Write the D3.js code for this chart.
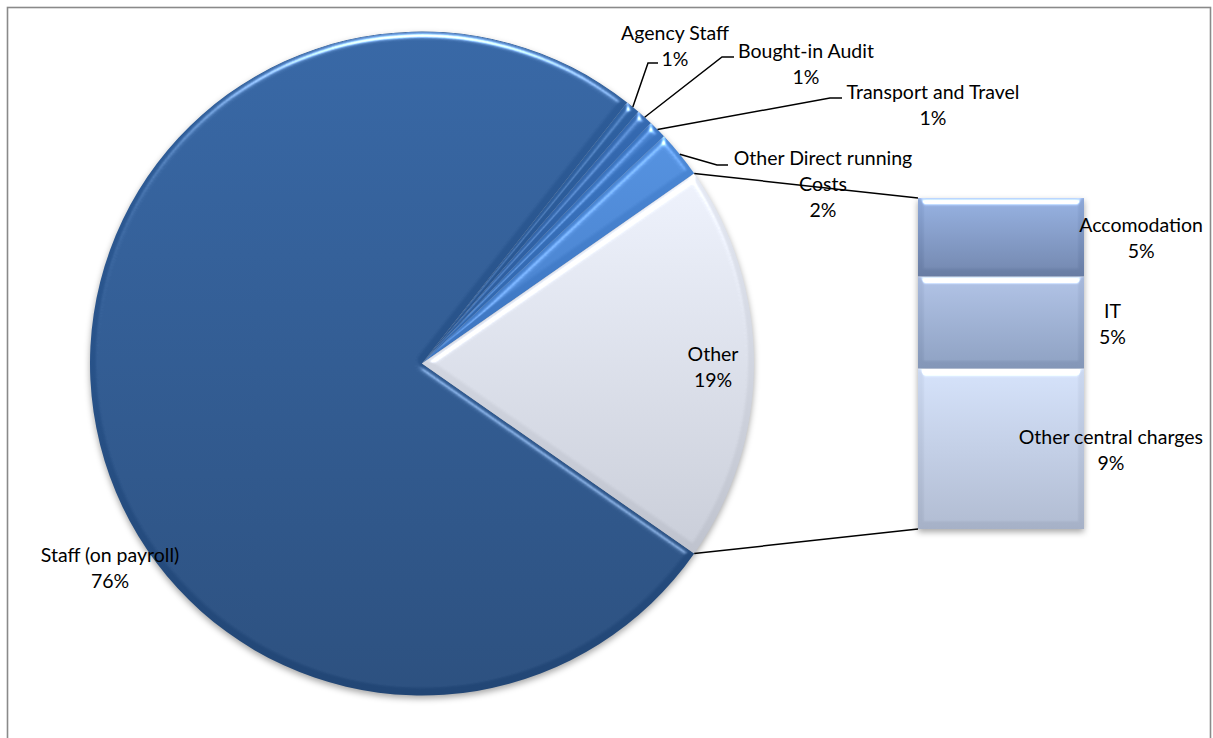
<!DOCTYPE html>
<html>
<head>
<meta charset="utf-8">
<script src="https://cdn.jsdelivr.net/npm/d3@7"></script>
<style>
  html, body { margin: 0; padding: 0; background: #ffffff; }
  svg { display: block; }
  text { font-family: Lato, "Open Sans", sans-serif; font-size: 19.5px; fill: #000; }
  filter { color-interpolation-filters: sRGB; }
</style>
</head>
<body>
<svg id="chart" width="1213" height="738"></svg>
<script>
// Running cost breakdown (% of total)
const pieCategories = ["Staff (on payroll)", "Agency Staff", "Bought-in Audit", "Transport and Travel", "Other Direct running Costs"];
const pieValues = [75.9, 0.7, 0.8, 0.9, 2.3];
const otherCategory = "Other";

// The "Other" slice is broken out into this stacked bar
const barCategories = ["Accomodation", "IT", "Other central charges"];
const barValues = [4.6, 5.4, 9.4];

const pieColors = [
  ["#2e5e9c", "#224675"],
  ["#2f62a3", "#26518a"],
  ["#356ab2", "#2b5a99"],
  ["#3b75c2", "#3065aa"],
  ["#4b88d6", "#3c74bf"],
  ["#e4e8f2", "#bfc3ce"]
];
const barColors = [
  ["#8da8d8", "#687ca3"],
  ["#a7b9dc", "#8396b7"],
  ["#cbd8f0", "#a6b1c7"]
];

// Label placement: text anchor (centre, first baseline) and leader line elbows
const pieLabelLayout = [
  { x: 110, y: 562 },
  { x: 675, y: 39.5, leader: [[648, 63], [658, 63]] },
  { x: 806, y: 58, leader: [[722, 57], [734, 57]] },
  { x: 933, y: 99, leader: [[830, 98], [842, 98]] },
  { x: 823, y: 165, wrap: 190, leader: [[717, 165], [728, 165]] },
  { x: 713, y: 361 }
];
const lineGap = 26;

const svg = d3.select("#chart");
const defs = svg.append("defs");

// Soft drop shadow under the shapes
const shadow = defs.append("filter").attr("id", "shadow")
  .attr("x", "-10%").attr("y", "-10%").attr("width", "120%").attr("height", "125%");
shadow.append("feDropShadow").attr("dx", 0).attr("dy", 3).attr("stdDeviation", 3)
  .attr("flood-color", "#000").attr("flood-opacity", 0.35);

// Bevel: specular highlight lit from above, clipped to the shape
const bevel = defs.append("filter").attr("id", "bevel")
  .attr("x", "-5%").attr("y", "-5%").attr("width", "110%").attr("height", "110%");
bevel.append("feGaussianBlur").attr("in", "SourceAlpha").attr("stdDeviation", 3).attr("result", "b");
const spec = bevel.append("feSpecularLighting").attr("in", "b").attr("surfaceScale", 4)
  .attr("specularConstant", 1).attr("specularExponent", 30)
  .attr("lighting-color", "#ffffff").attr("result", "s");
spec.append("feDistantLight").attr("azimuth", 270).attr("elevation", 40);
bevel.append("feComposite").attr("in", "s").attr("in2", "SourceAlpha").attr("operator", "in").attr("result", "sIn");
bevel.append("feComposite").attr("in", "SourceGraphic").attr("in2", "sIn")
  .attr("operator", "arithmetic").attr("k1", 0).attr("k2", 1).attr("k3", 0.85).attr("k4", 0);

function addGradient(id, c) {
  const g = defs.append("linearGradient").attr("id", id)
    .attr("x1", 0).attr("y1", 0).attr("x2", 0).attr("y2", 1);
  g.append("stop").attr("offset", "0%").attr("stop-color", c[0]);
  g.append("stop").attr("offset", "100%").attr("stop-color", c[1]);
}
pieColors.forEach((c, i) => addGradient("pg" + i, c));
barColors.forEach((c, i) => addGradient("bg" + i, c));

// Chart frame
svg.append("rect").attr("x", 7.5).attr("y", 7.5).attr("width", 1203).attr("height", 760)
  .attr("fill", "none").attr("stroke", "#8a8a8a").attr("stroke-width", 1.6);

// Pie data: primary categories plus the aggregated "Other"
const otherValue = d3.sum(barValues);
const pieData = pieCategories.map((c, i) => ({ name: c, value: pieValues[i] }))
  .concat([{ name: otherCategory, value: otherValue }]);
const total = d3.sum(pieData, d => d.value);

const cx = 422, cy = 363.5, r = 332;
const otherAngle = otherValue / total * 2 * Math.PI;
const start = Math.PI / 2 + otherAngle / 2;   // "Other" centred on the right
const pie = d3.pie().sort(null).value(d => d.value)
  .startAngle(start).endAngle(start + 2 * Math.PI);
const arcs = pie(pieData);
const arc = d3.arc().innerRadius(0).outerRadius(r);

const pct = v => Math.round(v / total * 100) + "%";
const polar = (a, rad) => [cx + rad * Math.sin(a), cy - rad * Math.cos(a)];

const pieG = svg.append("g").attr("filter", "url(#shadow)");
const sliceG = pieG.append("g").attr("transform", `translate(${cx},${cy})`);
sliceG.selectAll("path").data(arcs).join("path")
  .attr("d", arc)
  .attr("fill", (d, i) => `url(#pg${i})`)
  .attr("filter", "url(#bevel)");

// Stacked bar for the broken-out "Other" slice
const barX = d3.scaleBand().domain(["other"]).range([918, 1084]);
const barY = d3.scaleLinear().domain([0, otherValue]).range([198, 529]);
let acc = 0;
const barData = barCategories.map((c, i) => {
  const d = { name: c, value: barValues[i], y0: acc, y1: acc + barValues[i] };
  acc += barValues[i];
  return d;
});
const barG = svg.append("g").attr("filter", "url(#shadow)");
barG.selectAll("rect").data(barData).join("rect")
  .attr("x", barX("other"))
  .attr("width", barX.bandwidth())
  .attr("y", d => barY(d.y0))
  .attr("height", d => barY(d.y1) - barY(d.y0))
  .attr("fill", (d, i) => `url(#bg${i})`)
  .attr("filter", "url(#bevel)");

// Connector lines from the "Other" slice to the bar
const otherArc = arcs[arcs.length - 1];
const topPt = polar(otherArc.startAngle, r);
const botPt = polar(otherArc.endAngle, r);
const lines = svg.append("g").attr("stroke", "#000").attr("stroke-width", 1.5).attr("fill", "none");
lines.append("line").attr("x1", topPt[0]).attr("y1", topPt[1])
  .attr("x2", barX("other")).attr("y2", barY(0));
lines.append("line").attr("x1", botPt[0]).attr("y1", botPt[1])
  .attr("x2", barX("other")).attr("y2", barY(otherValue));

// Leader lines for the small slices
arcs.forEach((a, i) => {
  const lay = pieLabelLayout[i];
  if (!lay.leader) return;
  const mid = (a.startAngle + a.endAngle) / 2;
  const p0 = polar(mid, r);
  lines.append("polyline")
    .attr("points", [p0].concat(lay.leader).map(p => p.join(",")).join(" "));
});

// Wrap a label into lines no wider than maxW
const measure = svg.append("text").attr("visibility", "hidden");
function wrap(str, maxW) {
  if (!maxW) return [str];
  const words = str.split(" ");
  const out = [];
  let cur = "";
  words.forEach(w => {
    const t = cur ? cur + " " + w : w;
    measure.text(t);
    if (measure.node().getComputedTextLength() > maxW && cur) { out.push(cur); cur = w; }
    else cur = t;
  });
  out.push(cur);
  return out;
}
function textWidth(s) { measure.text(s); return measure.node().getComputedTextLength(); }

const labels = svg.append("g");
function drawLabel(x, y, linesArr) {
  const t = labels.append("text").attr("text-anchor", "middle");
  linesArr.forEach((s, k) => {
    t.append("tspan").attr("x", x).attr("y", y + k * lineGap).text(s);
  });
}

arcs.forEach((a, i) => {
  const lay = pieLabelLayout[i];
  drawLabel(lay.x, lay.y, wrap(a.data.name, lay.wrap).concat([pct(a.data.value)]));
});

// Bar labels: placed to the right of the bar, kept inside the frame
const frameRight = 1203;
barData.forEach(d => {
  const ls = [d.name, pct(d.value)];
  const w = d3.max(ls, textWidth);
  let left = barX("other") + barX.bandwidth() + 15;
  if (left + w > frameRight) left = frameRight - w;
  const mid = (barY(d.y0) + barY(d.y1)) / 2;
  drawLabel(left + w / 2, mid - 5, ls);
});
measure.remove();
</script>
</body>
</html>
